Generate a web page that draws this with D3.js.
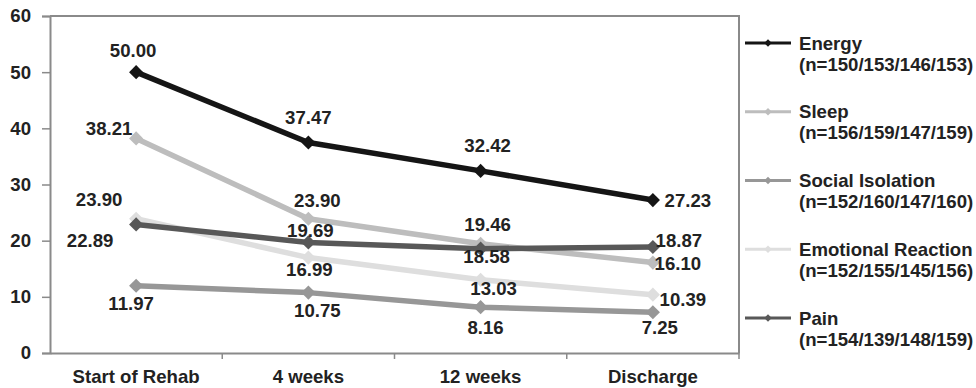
<!DOCTYPE html>
<html>
<head>
<meta charset="utf-8">
<script src="https://cdn.jsdelivr.net/npm/d3@7"></script>
<style>
  body { margin: 0; background: #fff; }
  text { font-family: "Liberation Sans", Arial, sans-serif; font-weight: bold; fill: #222; }
</style>
</head>
<body>
<div id="chart"></div>
<script>
// ---------------- data ----------------
const categories = ["Start of Rehab", "4 weeks", "12 weeks", "Discharge"];
const seriesNames = ["Energy", "Sleep", "Social Isolation", "Emotional Reaction", "Pain"];
const sampleSizes = ["(n=150/153/146/153)", "(n=156/159/147/159)", "(n=152/160/147/160)",
                     "(n=152/155/145/156)", "(n=154/139/148/159)"];
const energy = [50.00, 37.47, 32.42, 27.23];
const sleep = [38.21, 23.90, 19.46, 16.10];
const socialIsolation = [11.97, 10.75, 8.16, 7.25];
const emotionalReaction = [23.90, 16.99, 13.03, 10.39];
const pain = [22.89, 19.69, 18.58, 18.87];
const yTicks = [0, 10, 20, 30, 40, 50, 60];

// ---------------- look ----------------
const width = 976, height = 388;
const plotLeft = 50, plotRight = 739, plotTop = 16, plotBottom = 353;
const fontSize = "18.6px";
const colors = ["#151515", "#bdbdbd", "#979797", "#dedede", "#585858"];
// where each value label sits relative to its point [dx, dy]
const labelNudge = [
  [[-3, -22], [0, -25], [7, -25], [35, 0]],
  [[-27, -10], [9, -18], [7, -19], [25, 1]],
  [[-5, 18], [9, 18], [5, 20], [7, 15]],
  [[-37, -19], [1, 12], [13, 9], [30, 5]],
  [[-46, 16], [2, -12], [6, 8], [26, -7]]
];

const series = seriesNames.map((name, i) => ({
  name: name,
  n: sampleSizes[i],
  color: colors[i],
  values: [energy, sleep, socialIsolation, emotionalReaction, pain][i]
}));

const svg = d3.select("#chart").append("svg")
  .attr("width", width)
  .attr("height", height);

// ---------------- scales ----------------
const x = d3.scaleBand().domain(categories).range([plotLeft, plotRight]);
const y = d3.scaleLinear().domain([0, 60]).range([plotBottom, plotTop]);
const cx = d => x(d) + x.bandwidth() / 2;

// ---------------- frame + axes ----------------
svg.append("path")
  .attr("d", `M${plotLeft},${plotTop}H${plotRight}V${plotBottom}`)
  .attr("fill", "none")
  .attr("stroke", "#8a8a8a")
  .attr("stroke-width", 2);

const yAxis = svg.append("g")
  .attr("transform", `translate(${plotLeft},0)`)
  .call(d3.axisLeft(y).tickValues(yTicks).tickSize(8).tickPadding(11));
yAxis.select(".domain").attr("stroke", "#8a8a8a").attr("stroke-width", 2);
yAxis.selectAll(".tick line").attr("stroke", "#8a8a8a").attr("stroke-width", 1.5);
yAxis.selectAll(".tick text").style("font-size", fontSize).attr("fill", "#222");

const xAxis = svg.append("g")
  .attr("transform", `translate(0,${plotBottom})`)
  .call(d3.axisBottom(x).tickSize(0).tickPadding(17));
xAxis.select(".domain").attr("stroke", "#8a8a8a").attr("stroke-width", 2);
xAxis.selectAll(".tick text").style("font-size", fontSize).attr("fill", "#222")
  .attr("dy", "0.71em");

// tick marks between the categories
xAxis.selectAll(".sep")
  .data(categories.slice(1).map(c => x(c)).concat([x.range()[1]]))
  .enter().append("line")
  .attr("class", "sep")
  .attr("x1", d => d).attr("x2", d => d)
  .attr("y1", 0).attr("y2", 6)
  .attr("stroke", "#8a8a8a")
  .attr("stroke-width", 1.5);

// ---------------- lines ----------------
const line = d3.line()
  .x((d, i) => cx(categories[i]))
  .y(d => y(d));
const diamond = d3.symbol().type(d3.symbolSquare).size(100);

const groups = svg.selectAll(".series")
  .data(series)
  .enter().append("g")
  .attr("class", "series");

groups.append("path")
  .attr("d", d => line(d.values))
  .attr("fill", "none")
  .attr("stroke", d => d.color)
  .attr("stroke-width", 5.5)
  .attr("stroke-linejoin", "round");

groups.selectAll(".marker")
  .data(d => d.values.map(v => ({ v: v, color: d.color })))
  .enter().append("path")
  .attr("class", "marker")
  .attr("d", diamond)
  .attr("fill", d => d.color)
  .attr("transform", (d, i) => `translate(${cx(categories[i])},${y(d.v)}) rotate(45)`);

// value labels on top of everything
series.forEach((s, si) => {
  svg.selectAll(".lbl" + si)
    .data(s.values)
    .enter().append("text")
    .attr("class", "lbl" + si)
    .attr("x", (d, i) => cx(categories[i]) + labelNudge[si][i][0])
    .attr("y", (d, i) => y(d) + labelNudge[si][i][1])
    .attr("dy", "0.35em")
    .attr("text-anchor", "middle")
    .style("font-size", fontSize)
    .text(d => d.toFixed(2));
});

// ---------------- legend ----------------
const legend = svg.selectAll(".legend")
  .data(series)
  .enter().append("g")
  .attr("class", "legend")
  .attr("transform", (d, i) => `translate(745,${43 + i * 68.75})`);

legend.append("line")
  .attr("x1", 0).attr("x2", 46)
  .attr("stroke", d => d.color)
  .attr("stroke-width", 3);
legend.append("path")
  .attr("d", d3.symbol().type(d3.symbolSquare).size(28))
  .attr("fill", d => d.color)
  .attr("transform", "translate(23,0) rotate(45)");
legend.append("text")
  .attr("x", 54).attr("y", 0).attr("dy", "0.35em")
  .style("font-size", fontSize)
  .text(d => d.name);
legend.append("text")
  .attr("x", 54).attr("y", 21).attr("dy", "0.35em")
  .style("font-size", fontSize)
  .text(d => d.n);
</script>
</body>
</html>
